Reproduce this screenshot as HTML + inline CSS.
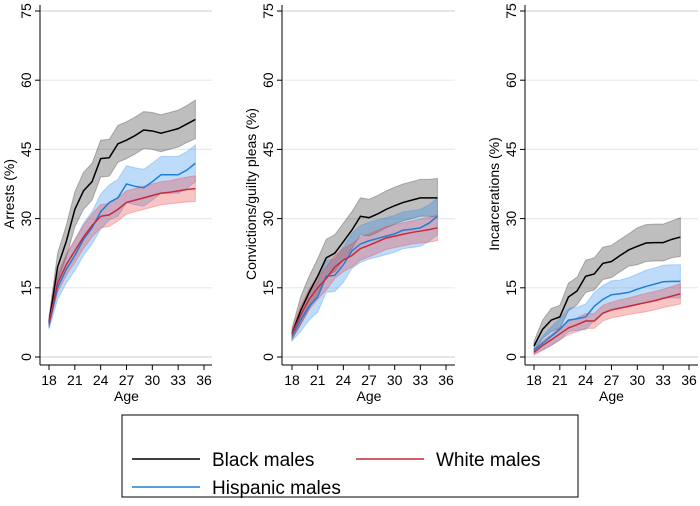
<!DOCTYPE html>
<html><head><meta charset="utf-8"><style>
body{margin:0;background:#fff;font-family:"Liberation Sans",Arial,sans-serif}
svg{display:block}
</style></head><body>
<svg id="c" width="700" height="506" viewBox="0 0 700 506"></svg>
<script>
const ages=[18,19,20,21,22,23,24,25,26,27,28,29,30,31,32,33,34,35];
const arrestsBlack=[7.5,19.5,25,32,36,38,43,43.2,46.2,47,48,49.2,49,48.5,49,49.5,50.5,51.5];
const arrestsHisp=[7,15,19,22,25.5,28,31.5,33.5,34.5,37.5,37,36.7,38,39.5,39.5,39.5,40.5,42];
const arrestsWhite=[7.5,16,20,23,26,28.5,30.5,30.8,32,33.5,34,34.5,35,35.5,35.7,36,36.3,36.5];
const convBlack=[5,10,14,17.5,21.5,22.5,25,27.5,30.5,30.2,31,32,32.8,33.5,34,34.5,34.5,34.5];
const convHisp=[4.5,8,11,13,17.5,17.7,20,23,24.5,25.2,25.7,26.2,26.7,27.5,27.7,28,29,30.5];
const convWhite=[5,9,12.5,15,17,19.5,21,22,23.5,24.2,25,25.8,26.2,26.6,27,27.3,27.6,28];
const incBlack=[2.4,6,8,8.7,13,14.3,17.5,18,20.3,20.7,22,23.2,24,24.7,24.8,24.8,25.5,26];
const incHisp=[1.5,3,4.5,6,8,8.3,8.7,11,12.5,13.5,13.7,14,14.7,15.3,15.8,16.3,16.4,16.4];
const incWhite=[1,2.5,3.7,5,6.3,7,7.8,7.8,9.5,10.2,10.6,11,11.4,11.8,12.2,12.7,13.2,13.7];
const bandBlack=[1.2,3,3.5,3.8,4,4,4,4,4,4,4,4,4,4,4,4,4,4.2];
const bandHisp=[1,2.5,3,3.3,3.5,3.5,3.8,3.8,4,4,4,4,4,4,4,4,4,4];
const bandWhite=[1,2,2.3,2.5,2.5,2.5,2.5,2.5,2.5,2.5,2.5,2.5,2.5,2.5,2.5,2.6,2.7,2.8];
const incBandBlack=[1,2,2.5,2.5,3,3,3.5,3.5,3.5,3.5,3.5,3.5,4,4,4,4,4,4.2];
const incBandHisp=[0.8,1.5,2,2.3,2.5,2.5,2.8,3,3,3,3,3.2,3.3,3.5,3.5,3.6,3.6,3.6];
const incBandWhite=[0.6,1,1.2,1.3,1.4,1.5,1.6,1.6,1.7,1.7,1.8,1.8,1.9,2,2,2,2.1,2.2];
const yTicks=[0,15,30,45,60,75];
const xTicks=[18,21,24,27,30,33,36];
const panels=[
 {name:'arrests',title:'Arrests (%)',ax:40,x0:49,x1:204,right:212,series:[arrestsBlack,arrestsHisp,arrestsWhite],bands:[bandBlack,bandHisp,bandWhite]},
 {name:'convictions',title:'Convictions/guilty pleas (%)',ax:282,x0:292,x1:446,right:455,series:[convBlack,convHisp,convWhite],bands:[bandBlack,bandHisp,bandWhite]},
 {name:'incarcerations',title:'Incarcerations (%)',ax:525,x0:534,x1:689,right:698,series:[incBlack,incHisp,incWhite],bands:[incBandBlack,incBandHisp,incBandWhite]}];
const cols=[{l:'#000',f:'rgba(40,40,40,0.3)',n:'black'},{l:'#1f7fd6',f:'rgba(40,140,235,0.3)',n:'hispanic'},{l:'#c8283a',f:'rgba(235,60,60,0.3)',n:'white'}];
const svg=document.getElementById('c');const NS='http://www.w3.org/2000/svg';
function mk(t,a,p){const e=document.createElementNS(NS,t);for(const k in a)e.setAttribute(k,a[k]);(p||svg).appendChild(e);return e;}
const Y0=357,Y75=11;
function ys(v){return Y0-(v/75)*(Y0-Y75);}
panels.forEach(p=>{
 const g=mk('g',{});
 
 
 const xs=a=>p.x0+(a-18)/18*(p.x1-p.x0);
 yTicks.forEach(t=>{
  const l=mk('line',{x1:p.ax,x2:p.right,y1:ys(t),y2:ys(t),stroke:t===0||t===75?'#d8d8d8':'#e3ebee','stroke-width':1.2},g);
  
  
  mk('line',{x1:p.ax-5,x2:p.ax,y1:ys(t),y2:ys(t),stroke:'#000'},g);
  const tx=mk('text',{x:0,y:0,transform:`translate(${p.ax-9},${ys(t)}) rotate(-90)`,'text-anchor':'middle','font-size':14},g);
  tx.textContent=t;
  
  
 });
 mk('line',{x1:p.ax,x2:p.ax,y1:5,y2:365,stroke:'#000'},g);
 mk('line',{x1:p.ax,x2:p.right,y1:365,y2:365,stroke:'#000'},g);
 xTicks.forEach(t=>{
  mk('line',{x1:xs(t),x2:xs(t),y1:365,y2:370,stroke:'#000'},g);
  const tx=mk('text',{x:xs(t),y:385,'text-anchor':'middle','font-size':14},g);
  tx.textContent=t;
  
  
 });
 const at=mk('text',{x:(p.x0+p.x1)/2,y:401,'text-anchor':'middle','font-size':14},g);
 at.textContent='Age';
 
 
 const yt=mk('text',{x:0,y:0,transform:`translate(${p.ax-26},${(Y0+Y75)/2+10}) rotate(-90)`,'text-anchor':'middle','font-size':14},g);
 yt.textContent=p.title;
 
 
 p.series.forEach((s,i)=>{
  const c=cols[i],b=p.bands[i];
  let up=ages.map((a,j)=>xs(a)+','+ys(s[j]+b[j]));
  let dn=ages.map((a,j)=>xs(a)+','+ys(Math.max(0,s[j]-b[j]))).reverse();
  const band=mk('polygon',{points:up.concat(dn).join(' '),fill:c.f,stroke:c.f,'stroke-width':1},g);
  
  
 });
 p.series.forEach((s,i)=>{
  const c=cols[i];
  const ln=mk('polyline',{points:ages.map((a,j)=>xs(a)+','+ys(s[j])).join(' '),fill:'none',stroke:c.l,'stroke-width':1.5},g);
  
  
 });
});
const lg=mk('g',{});


mk('rect',{x:122,y:415,width:456,height:82,fill:'#fff',stroke:'#000'},lg);
[[132,'#000','Black males',459],[356,'#c8283a','White males',459],[132,'#1f7fd6','Hispanic males',487]].forEach(e=>{
 const y=e[3];
 mk('line',{x1:e[0],x2:e[0]+68,y1:y,y2:y,stroke:e[1],'stroke-width':1.5},lg);
 const t=mk('text',{x:e[0]+80,y:y+7,'font-size':19},lg);
 t.textContent=e[2];
 
 
});
</script>
</body></html>
